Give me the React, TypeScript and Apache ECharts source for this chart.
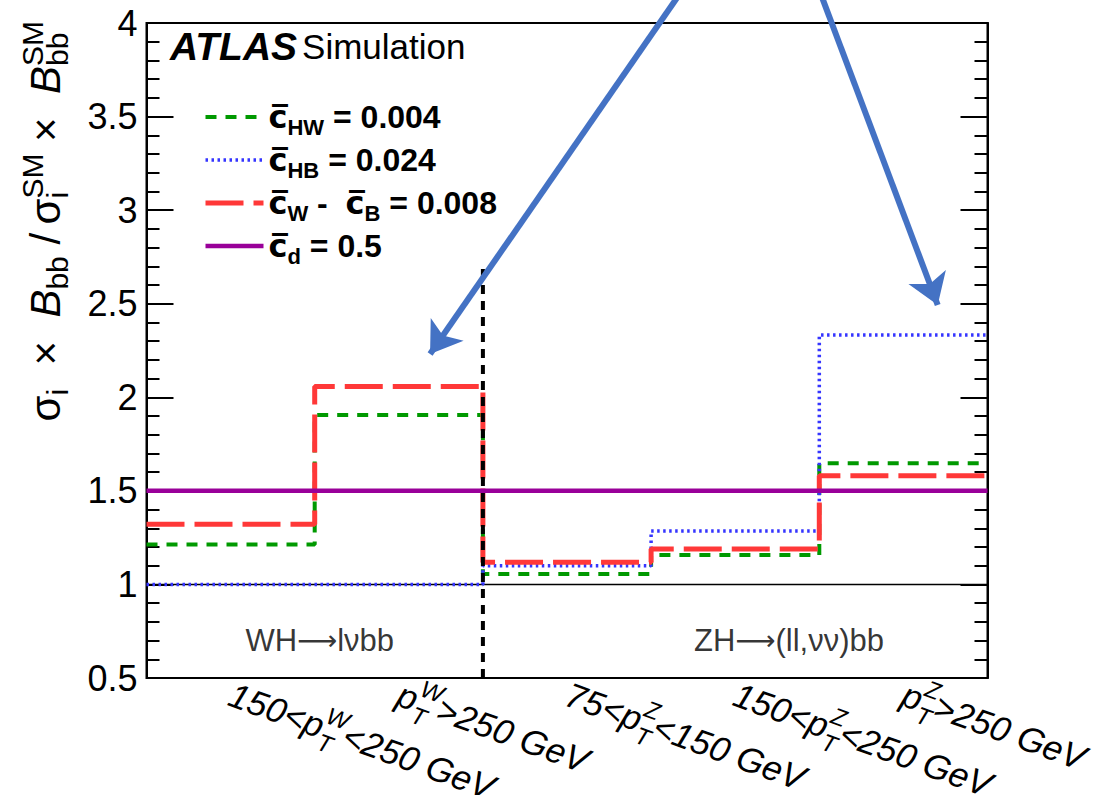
import React, { useEffect, useRef } from 'react';
import * as echarts from 'echarts';

// ---- data ----
const binPrefix = ['150<', '', '75<', '150<', ''];
const binBoson = ['W', 'W', 'Z', 'Z', 'Z'];
const binSuffix = ['<250 GeV', '>250 GeV', '<150 GeV', '<250 GeV', '>250 GeV'];

const cHW = [1.214, 1.905, 1.056, 1.157, 1.647];
const cHB = [1.0, 1.0, 1.1, 1.285, 2.333];
const cWB = [1.321, 2.057, 1.118, 1.189, 1.581];
const cD = [1.5, 1.5, 1.5, 1.5, 1.5];

const seriesNames = ['cHW', 'cHB', 'cWB', 'cd'];
const seriesWidths = [4, 3.5, 5, 4.5];
const legendTexts = [
  '{c|c\u0305}{s|HW}{m| = 0.004}',
  '{c|c\u0305}{s|HB}{m| = 0.024}',
  '{c|c\u0305}{s|W}{m| -  }{c|c\u0305}{s|B}{m| = 0.008}',
  '{c|c\u0305}{s|d}{m| = 0.5}',
];

const yTicks = [0.5, 1, 1.5, 2, 2.5, 3, 3.5, 4];
const referenceLevel = 1;
const separatorX = 2;
const separatorTop = 2.696;

const channelParts = [['WH', 'l\u03BDbb'], ['ZH', '(ll,\u03BD\u03BD)bb']];
const channelX = [1.03, 3.82];
const channelY = [0.70, 0.70];

const arrowFrom = [[3.186, 4.176], [4.0, 4.176]];
const arrowTo = [[1.686, 2.231], [4.704, 2.493]];

const FONT = '"Liberation Sans", Arial, Helvetica, sans-serif';

function toStep(vals: number[]) {
  const pts = vals.map((v, i) => [i, v]);
  pts.push([vals.length, vals[vals.length - 1]]);
  return pts;
}

export default function App() {
  const ref = useRef<HTMLDivElement>(null);
  useEffect(() => {
    if (!ref.current) return;
    const chart = echarts.init(ref.current, null, { renderer: 'svg' });

    const lineSeries = (name: string, vals: number[], color: string, width: number, type: any, z: number) => ({
      name,
      type: 'line',
      step: 'end',
      data: toStep(vals),
      symbol: 'none',
      showSymbol: false,
      lineStyle: { color, width, type },
      itemStyle: { color },
      silent: true,
      z,
    });

    const option: any = {
      animation: false,
      backgroundColor: '#fff',
      textStyle: { fontFamily: FONT },
      grid: {
        left: 146.5, right: 109.5, top: 23, bottom: 117,
        outerBoundsMode: 'none', containLabel: false,
        show: true, borderColor: '#000', borderWidth: 2, backgroundColor: 'transparent',
      },
      title: {
        text: '{a|ATLAS} {b|Simulation}',
        left: 165, top: 22,
        textStyle: {
          rich: {
            a: { fontSize: 39, fontWeight: 'bold', fontStyle: 'italic', fontFamily: FONT, color: '#000' },
            b: { fontSize: 35, fontWeight: 'normal', fontFamily: FONT, color: '#000' },
          },
        },
      },
      legend: {
        orient: 'vertical',
        left: 198, top: 96,
        itemWidth: 58, itemHeight: 16, itemGap: 6,
        selectedMode: false,
        itemStyle: { opacity: 0 },
        data: seriesNames.map((n, i) => ({ name: n, itemStyle: { opacity: 0 }, lineStyle: { width: seriesWidths[i] } })),
        formatter: (name: string) => legendTexts[seriesNames.indexOf(name)],
        textStyle: {
          rich: {
            c: { fontSize: 32, fontWeight: 'bold', fontFamily: '"DejaVu Sans", sans-serif', color: '#000' },
            m: { fontSize: 32, fontWeight: 'bold', fontFamily: FONT, color: '#000' },
            s: { fontSize: 22, fontWeight: 'bold', fontFamily: FONT, color: '#000', padding: [20, 0, 0, 0] },
          },
        },
      },
      xAxis: {
        type: 'value', min: 0, max: 5, interval: 0.5,
        axisLine: { show: false }, axisTick: { show: false }, splitLine: { show: false },
        axisLabel: {
          rotate: -20, margin: 15,
          formatter: (v: number) => {
            const i = Math.floor(v);
            if (Math.abs(v - i - 0.5) > 1e-6 || i < 0 || i >= binBoson.length) return '';
            const pre = binPrefix[i] ? `{m|${binPrefix[i]}}` : '';
            return `${pre}{m|p}{z|T}{p|${binBoson[i]}}{m|${binSuffix[i]}}`;
          },
          rich: {
            m: { fontSize: 35, fontStyle: 'italic', fontFamily: FONT, color: '#000', align: 'left' },
            z: { fontSize: 24, fontStyle: 'italic', fontFamily: FONT, color: '#000', padding: [30, 0, 0, 0], width: 0, align: 'left' },
            p: { fontSize: 24, fontStyle: 'italic', fontFamily: FONT, color: '#000', padding: [0, 0, 26, 0], align: 'left' },
          },
        },
      },
      yAxis: [0, 1].map((k) => ({
        type: 'value', min: yTicks[0], max: yTicks[yTicks.length - 1], interval: 0.5,
        position: k === 0 ? 'left' : 'right',
        axisLine: { show: true, lineStyle: { color: '#000', width: 2 } },
        axisTick: { show: true, inside: true, length: 27, lineStyle: { color: '#000', width: 2 } },
        minorTick: { show: true, splitNumber: 5, length: 13, lineStyle: { color: '#000', width: 2 } },
        splitLine: { show: false },
        axisLabel: {
          show: k === 0, fontSize: 36, color: '#000', margin: 9, fontFamily: FONT,
          formatter: (v: number) => String(v),
        },
      })),
      graphic: [
        {
          type: 'text', x: 45, y: 21, rotation: Math.PI / 2,
          style: {
            text: '{m|\u03C3}{s|i}{m|  \u00D7  }{b|B}{s|bb}{m| /\u2009\u03C3}{z|i}{p|SM}{m| \u00D7  }{b|B}{z|bb}{p|SM}',
            align: 'right', verticalAlign: 'middle',
            rich: {
              m: { fontSize: 42, fontFamily: FONT, fill: '#000', align: 'left' },
              b: { fontSize: 42, fontStyle: 'italic', fontFamily: FONT, fill: '#000', align: 'left' },
              s: { fontSize: 30, fontFamily: FONT, fill: '#000', padding: [24, 0, 0, 0], align: 'left' },
              z: { fontSize: 30, fontFamily: FONT, fill: '#000', padding: [24, 0, 0, 0], width: 0, align: 'left' },
              p: { fontSize: 30, fontFamily: FONT, fill: '#000', padding: [0, 0, 26, 0], align: 'left' },
            },
          },
        },
      ],
      series: [
        {
          name: 'ref', type: 'line', data: [[0, referenceLevel], [5, referenceLevel]],
          symbol: 'none', lineStyle: { color: '#000', width: 1.5 }, silent: true, z: 1,
        },
        lineSeries('cHW', cHW, '#009900', seriesWidths[0], [11, 9], 2),
        lineSeries('cHB', cHB, '#3535FF', seriesWidths[1], [2.5, 3.5], 3),
        lineSeries('cWB', cWB, '#FF3838', seriesWidths[2], [38, 10], 4),
        lineSeries('cd', cD, '#990099', seriesWidths[3], 'solid', 5),
        {
          name: 'sep', type: 'line', data: [[separatorX, yTicks[0]], [separatorX, separatorTop]],
          symbol: 'none', lineStyle: { color: '#000', width: 4, type: [9, 7] }, silent: true, z: 6,
        },
        {
          name: 'channels', type: 'scatter', symbolSize: 0, silent: true, z: 6,
          data: channelParts.map((t, i) => ({ value: [channelX[i], channelY[i]], name: String(i) })),
          label: {
            show: true, position: 'inside', color: '#000',
            formatter: (p: any) => {
              const parts = channelParts[Number(p.name)];
              return `{m|${parts[0]}}{a|\u27F6}{m|${parts[1]}}`;
            },
            rich: {
              m: { fontSize: 31, color: '#000', fontFamily: FONT, textBorderWidth: 0 },
              a: { fontSize: 28, color: '#000', fontFamily: '"DejaVu Sans", sans-serif', textBorderWidth: 0 },
            },
          },
        },
        {
          name: 'arrows', type: 'lines', coordinateSystem: 'cartesian2d', clip: false, silent: true, z: 10,
          symbol: ['none', 'arrow'], symbolSize: 30,
          lineStyle: { color: '#4472C4', width: 6, opacity: 1, curveness: 0 },
          data: arrowFrom.map((f, i) => ({ coords: [f, arrowTo[i]] })),
        },
      ],
    };
    chart.setOption(option);
    return () => chart.dispose();
  }, []);
  return <div ref={ref} style={{ position: 'fixed', left: 0, top: 0, width: 1097, height: 795 }} />;
}
